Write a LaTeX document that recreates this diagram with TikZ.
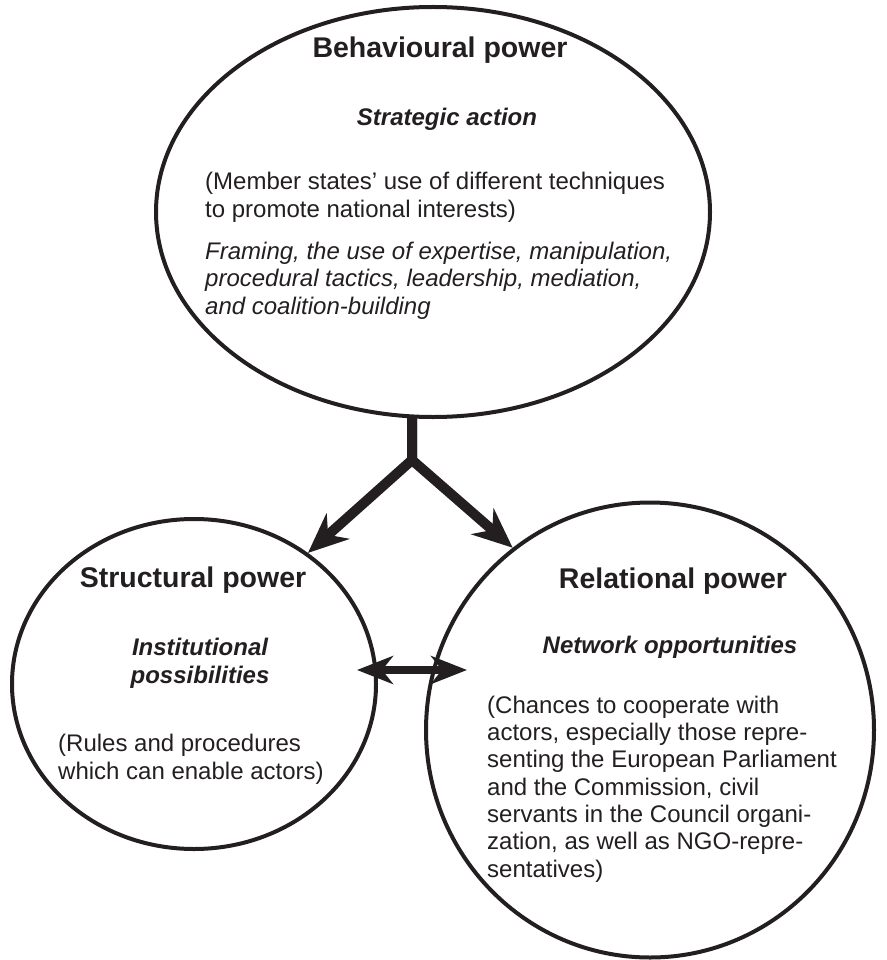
\documentclass[tikz,border=0pt]{standalone}
\usepackage{fontspec}
\setmainfont{Liberation Sans}
\usetikzlibrary{shapes.geometric,arrows.meta}
\definecolor{ink}{HTML}{231F20}
\tikzset{
  bubble/.style={draw=ink,line width=4pt,ellipse,inner sep=0pt},
  titletext/.style={anchor=base,text=ink,font=\fontsize{28.5}{34}\selectfont\bfseries,inner sep=0pt},
  subtext/.style={anchor=base,text=ink,font=\fontsize{24}{28}\selectfont\bfseries\itshape,inner sep=0pt,align=center},
  bodytext/.style={anchor=base west,text=ink,font=\fontsize{24}{27.5}\selectfont,inner sep=0pt,align=left},
  bigarrow/.style={line width=10pt,line join=miter,ink,-{Stealth[length=40pt,width=34pt,inset=13pt]}},
  duoarrow/.style={line width=8pt,ink,{Stealth[length=36pt,width=28pt,inset=11pt]}-{Stealth[length=36pt,width=28pt,inset=11pt]}}
}
\begin{document}
\begin{tikzpicture}[x=1pt,y=-1pt]
\useasboundingbox (0,0) rectangle (886,960);
% bubbles
\node[bubble,minimum width=554pt,minimum height=410pt] (beh) at (433,212) {};
\node[bubble,minimum width=364pt,minimum height=330pt] (str) at (194,684) {};
\node[bubble,minimum width=448pt,minimum height=455pt] (rel) at (650,730) {};
% texts top (multi-line nodes: base = last line baseline)
\node[titletext] (behT) at (440,58) {Behavioural power};
\node[subtext] (behS) at (447,126) {Strategic action};
\node[bodytext] (behB1) at (205,217) {(Member states’ use of different techniques\\to promote national interests)};
\node[bodytext,font=\fontsize{24}{27.5}\selectfont\itshape] (behB2) at (205,314) {Framing, the use of expertise, manipulation,\\procedural tactics, leadership, mediation,\\and coalition-building};
% texts left
\node[titletext] (strT) at (193,587) {Structural power};
\node[subtext] (strS) at (200,683) {Institutional\\possibilities};
\node[bodytext] (strB) at (58,779) {(Rules and procedures\\which can enable actors)};
% texts right
\node[titletext] (relT) at (673,588) {Relational power};
\node[subtext] (relS) at (670,653) {Network opportunities};
\node[bodytext,font=\fontsize{24}{27.3}\selectfont] (relB) at (487,877) {(Chances to cooperate with\\actors, especially those repre-\\senting the European Parliament\\and the Commission, civil\\servants in the Council organi-\\zation, as well as NGO-repre-\\sentatives)};
% connectors
\coordinate (fork) at (412,460);
\coordinate (stemtop) at (412,416);
\coordinate (ltip) at (str.49);
\coordinate (rtip) at (rel.127);
\draw[bigarrow] (stemtop) -- (fork) -- (ltip);
\draw[bigarrow] (stemtop) -- (fork) -- (rtip);
\coordinate (dl) at (357,670);
\coordinate (dr) at (467,670);
\draw[duoarrow] (dl) -- (dr);
\end{tikzpicture}
\end{document}
